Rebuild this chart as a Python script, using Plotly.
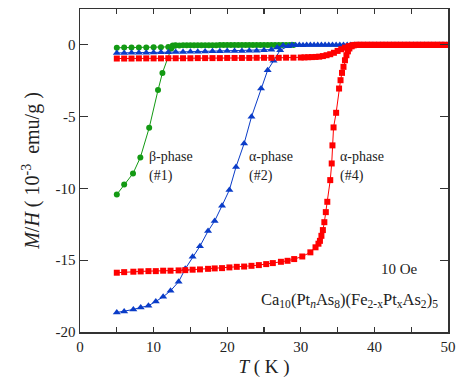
import plotly.graph_objects as go

# ---------------- data ----------------
# beta-phase (#1), green circles
g_zfc_T = [5.0, 6.0, 7.2, 8.2, 9.4, 10.6, 11.2, 12.4, 12.9, 13.5, 14.5, 15.5, 16.5, 17.5, 18.5, 19.5,
           20.5, 21.5, 22.5, 23.5, 24.5, 25.5, 26.5, 27.5, 28.5]
g_zfc_M = [-10.42, -9.72, -8.96, -7.84, -5.78, -3.15, -1.95, -0.25, -0.06, -0.04, -0.03, -0.03, -0.02,
           -0.02, -0.02, -0.01, -0.01, -0.01, -0.01, 0.0, 0.0, 0.0, 0.0, 0.0, 0.0]
g_fc_T = [5, 6, 7, 8, 9, 10, 11, 12, 12.6, 13, 14, 15, 16, 17, 18, 19, 20, 21, 22, 23, 24, 25, 26, 27, 28, 29]
g_fc_M = [-0.2, -0.19, -0.19, -0.18, -0.18, -0.17, -0.16, -0.14, -0.05, -0.03, -0.03, -0.02, -0.02, -0.02,
          -0.02, -0.01, -0.01, -0.01, -0.01, 0.0, 0.0, 0.0, 0.0, 0.0, 0.0, 0.0]

# alpha-phase (#2), blue triangles
b_zfc_T = [5.0, 6.0, 7.25, 8.25, 9.3, 10.3, 11.3, 12.3, 13.4, 14.3, 15.3, 16.3, 17.4, 18.3, 19.3, 20.3,
           21.2, 22.3, 23.3, 24.6, 25.5, 26.3, 27.2, 28.3, 29.3, 30.3, 31.3, 32.3, 33.3, 34.3, 35.3,
           36.3, 37.3, 38.3, 39.3, 40.3, 41.3, 42.3, 43.3, 44.3, 45.3, 46.3, 47.3, 48.3, 49.3, 50.0]
b_zfc_M = [-18.64, -18.57, -18.43, -18.29, -18.17, -17.87, -17.55, -17.13, -16.5, -15.6, -14.76, -14.02,
           -12.97, -12.26, -11.2, -10.1, -8.5, -6.87, -5.01, -3.04, -1.76, -1.11, -0.37, -0.09, -0.03,
           -0.02, -0.01, -0.01, 0.0, 0.0, 0.0, 0.0, 0.0, 0.0, 0.0, 0.0, 0.0, 0.0, 0.0, 0.0, 0.0, 0.0,
           0.0, 0.0, 0.0, 0.0]
b_fc_T = [5, 6, 7, 8, 9, 10, 11, 12, 13, 14, 15, 16, 17, 18, 19, 20, 21, 22, 23, 24, 25, 26, 26.8, 27.6,
          28.8, 29.8, 30.8, 31.8, 32.8, 33.8, 34.8, 35.8, 36.8, 37.8, 38.8, 39.8, 40.8, 41.8, 42.8, 43.8,
          44.8, 45.8, 46.8, 47.8, 48.8, 49.8]
b_fc_M = [-0.56, -0.56, -0.55, -0.55, -0.54, -0.53, -0.52, -0.51, -0.5, -0.49, -0.48, -0.47, -0.46, -0.45,
          -0.44, -0.43, -0.42, -0.42, -0.41, -0.4, -0.38, -0.33, -0.18, -0.05, -0.01, 0.0, 0.0, 0.0, 0.0,
          0.0, 0.0, 0.0, 0.0, 0.0, 0.0, 0.0, 0.0, 0.0, 0.0, 0.0, 0.0, 0.0, 0.0, 0.0, 0.0, 0.0]

# alpha-phase (#4), red squares
r_zfc_T = [5.0, 6.0, 7.25, 8.25, 9.3, 10.3, 11.3, 12.3, 13.4, 14.3, 15.3, 16.3, 17.4, 18.3, 19.3, 20.3,
           21.3, 22.3, 23.3, 24.3, 25.3, 26.2, 27.3, 28.2, 29.1, 30.2, 31.3, 32.0, 32.4, 32.6, 32.8, 33.0,
           33.2, 33.4, 33.6, 34.0, 34.2, 34.3, 34.45, 34.8, 35.2, 35.4, 35.6, 35.8, 36.0, 36.2, 36.4, 36.6,
           36.9, 37.2, 37.6, 38.0, 38.4, 38.8, 39.2, 39.6, 40.0, 40.4, 40.8, 41.2, 41.6, 42.0, 42.4, 42.8,
           43.2, 43.6, 44.0, 44.4, 44.8, 45.2, 45.6, 46.0, 46.4, 46.8, 47.2, 47.6, 48.0, 48.4, 48.8, 49.2,
           49.6]
r_zfc_M = [-15.87, -15.83, -15.8, -15.78, -15.76, -15.76, -15.73, -15.73, -15.71, -15.69, -15.66, -15.64,
           -15.6, -15.57, -15.55, -15.5, -15.46, -15.44, -15.39, -15.34, -15.27, -15.2, -15.11, -15.04,
           -14.92, -14.74, -14.45, -14.1, -13.85, -13.65, -13.3, -12.9, -12.35, -11.65, -10.93, -9.42,
           -8.26, -7.0, -5.75, -4.73, -3.04, -2.46, -1.95, -1.53, -1.07, -0.72, -0.45, -0.25, -0.1, -0.03,
           0.0, 0.0, 0.0, 0.0, 0.0, 0.0, 0.0, 0.0, 0.0, 0.0, 0.0, 0.0, 0.0, 0.0, 0.0, 0.0, 0.0, 0.0, 0.0,
           0.0, 0.0, 0.0, 0.0, 0.0, 0.0, 0.0, 0.0, 0.0, 0.0, 0.0, 0.0]
r_fc_T = [5, 6, 7, 8, 9, 10, 11, 12, 13, 14, 15, 16, 17, 18, 19, 20, 21, 22, 23, 24, 25, 26, 27, 28, 29,
          30, 30.5, 31.0, 31.5, 32.0, 32.5, 33.0, 33.5, 34.0, 34.5, 35.0, 35.5, 36.0, 36.5, 37.0, 37.4,
          37.8, 38.2, 38.6, 39.0, 39.4, 39.8, 40.2, 40.6, 41.0, 41.4, 41.8, 42.2, 42.6, 43.0, 43.4, 43.8,
          44.2, 44.6, 45.0, 45.4, 45.8, 46.2, 46.6, 47.0, 47.4, 47.8, 48.2, 48.6, 49.0, 49.4, 49.7]
r_fc_M = [-0.95, -0.95, -0.95, -0.94, -0.94, -0.94, -0.94, -0.93, -0.93, -0.93, -0.93, -0.92, -0.92,
          -0.92, -0.92, -0.91, -0.91, -0.91, -0.91, -0.9, -0.9, -0.9, -0.9, -0.89, -0.89, -0.88, -0.87,
          -0.86, -0.85, -0.84, -0.82, -0.78, -0.72, -0.65, -0.55, -0.42, -0.3, -0.19, -0.09, -0.03, 0.0,
          0.0, 0.0, 0.0, 0.0, 0.0, 0.0, 0.0, 0.0, 0.0, 0.0, 0.0, 0.0, 0.0, 0.0, 0.0, 0.0, 0.0, 0.0, 0.0,
          0.0, 0.0, 0.0, 0.0, 0.0, 0.0, 0.0, 0.0, 0.0, 0.0, 0.0, 0.0]

x_ticks = [0, 10, 20, 30, 40, 50]
x_ticklabels = ["0", "10", "20", "30", "40", "50"]
y_ticks = [0, -5, -10, -15, -20]
y_ticklabels = ["0", "-5", "-10", "-15", "-20"]

# ---------------- figure ----------------
GREEN = "#139a13"
BLUE = "#0a3cc8"
RED = "#ff0000"
FONT = "Liberation Serif, Times New Roman, Times, serif"

fig = go.Figure()


def add(T, M, color, symbol, size):
    fig.add_trace(go.Scatter(
        x=T, y=M, mode="lines+markers",
        line=dict(color=color, width=1),
        marker=dict(symbol=symbol, size=size, color=color, line=dict(width=0)),
        showlegend=False, hoverinfo="skip"))


add(g_zfc_T, g_zfc_M, GREEN, "circle", 6)
add(g_fc_T, g_fc_M, GREEN, "circle", 6)
add(b_zfc_T, b_zfc_M, BLUE, "triangle-up", 7)
add(b_fc_T, b_fc_M, BLUE, "triangle-up", 7)
add(r_zfc_T, r_zfc_M, RED, "square", 6)
add(r_fc_T, r_fc_M, RED, "square", 6)

ann_font = dict(family=FONT, size=14, color="#222")
labels = [
    (9.1, -7.8, "β-phase"), (9.1, -9.15, "(#1)"),
    (22.7, -7.8, "α-phase"), (22.7, -9.15, "(#2)"),
    (35.1, -7.8, "α-phase"), (35.1, -9.15, "(#4)"),
]
for x, y, t in labels:
    fig.add_annotation(x=x, y=y, text=t, showarrow=False, xanchor="left", yanchor="middle",
                       font=ann_font, xref="x", yref="y")

fig.add_annotation(x=46.2, y=-15.6, text="10 Oe", showarrow=False, xanchor="right", yanchor="middle",
                   font=dict(family=FONT, size=15, color="#222"))
fig.add_annotation(x=24.3, y=-17.8,
                   text="Ca<sub>10</sub>(Pt<sub><i>n</i></sub>As<sub>8</sub>)(Fe<sub>2-x</sub>Pt<sub>x</sub>As<sub>2</sub>)<sub>5</sub>",
                   showarrow=False, xanchor="left", yanchor="middle",
                   font=dict(family=FONT, size=16.5, color="#222"))

axis_common = dict(showgrid=False, zeroline=False, showline=True, mirror="ticks",
                   linecolor="#333", linewidth=1.5, ticks="inside", tickcolor="#333",
                   tickwidth=1.2, tickfont=dict(family=FONT, size=15, color="#222"))

fig.update_xaxes(range=[0, 50], tickmode="array", tickvals=x_ticks, ticktext=x_ticklabels,
                 ticklen=5, minor=dict(dtick=5, ticks="inside", ticklen=5, tickcolor="#333", tickwidth=1.2),
                 title=dict(text="<i>T</i> ( K )", font=dict(family=FONT, size=19, color="#222"), standoff=6),
                 automargin=False, **axis_common)
fig.update_yaxes(range=[-20, 2.5], tickmode="array", tickvals=y_ticks, ticktext=y_ticklabels,
                 ticklen=8,
                 title=dict(text="<i>M</i>/<i>H</i> ( 10<sup>-3</sup>  emu/g )",
                            font=dict(family=FONT, size=20, color="#222"), standoff=10),
                 automargin=False, **axis_common)

fig.update_layout(width=459, height=381, margin=dict(l=80, r=11, t=9, b=49),
                  plot_bgcolor="white", paper_bgcolor="white")

# remove the default page margin so the 459x381 figure fills the window exactly
fig.write_html("out.html", config={"displayModeBar": False, "staticPlot": True},
               post_script="document.body.style.margin='0';document.body.style.overflow='hidden';")
